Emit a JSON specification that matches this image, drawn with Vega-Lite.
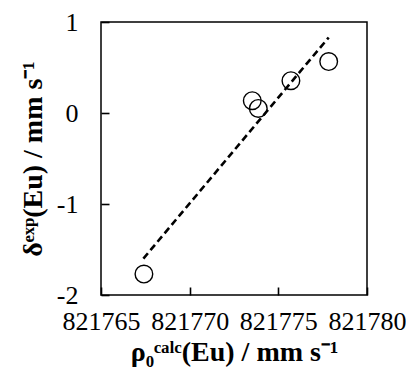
{
  "$schema": "https://vega.github.io/schema/vega-lite/v6.json",
  "width": 266,
  "height": 273,
  "autosize": {"type": "none"},
  "padding": {"left": 101, "top": 22, "right": 39, "bottom": 77},
  "background": "white",
  "config": {
    "view": {"stroke": "black", "strokeWidth": 1.5},
    "axis": {
      "grid": false,
      "domain": false,
      "offset": -8,
      "ticks": true,
      "tickColor": "black",
      "tickWidth": 1.6,
      "tickSize": 8,
      "labelFont": "Liberation Serif",
      "labelFontSize": 26,
      "labelColor": "black",
      "labelOverlap": false,
      "labelFlush": false,
      "titleFont": "Liberation Serif",
      "titleFontWeight": "bold",
      "titleFontSize": 28,
      "titleColor": "black"
    }
  },
  "datasets": {
    "points": [
      {"rho": 821767.42, "delta": -1.77},
      {"rho": 821773.53, "delta": 0.135},
      {"rho": 821773.87, "delta": 0.05},
      {"rho": 821775.71, "delta": 0.355},
      {"rho": 821777.84, "delta": 0.565}
    ],
    "fit": [
      {"rho": 821767.39, "delta": -1.6},
      {"rho": 821777.84, "delta": 0.83}
    ]
  },
  "layer": [
    {
      "data": {"name": "fit"},
      "mark": {"type": "line", "color": "black", "strokeWidth": 2.6, "strokeDash": [7, 4]},
      "encoding": {
        "x": {"field": "rho", "type": "quantitative"},
        "y": {"field": "delta", "type": "quantitative"}
      }
    },
    {
      "data": {"name": "points"},
      "mark": {"type": "point", "shape": "circle", "filled": false, "stroke": "black", "strokeWidth": 1.4, "size": 310, "opacity": 1},
      "encoding": {
        "x": {
          "field": "rho",
          "type": "quantitative",
          "scale": {"domain": [821765, 821780], "nice": false, "zero": false},
          "axis": {
            "values": [821765, 821770, 821775, 821780],
            "labelExpr": "'' + datum.value",
            "labelPadding": 13,
            "title": "ρ₀ᶜᵃˡᶜ(Eu) / mm s⁻¹",
            "titlePadding": 4
          }
        },
        "y": {
          "field": "delta",
          "type": "quantitative",
          "scale": {"domain": [-2, 1], "nice": false, "zero": false},
          "axis": {
            "values": [-2, -1, 0, 1],
            "labelExpr": "'' + datum.value",
            "labelPadding": 23,
            "title": "δᵉˣᵖ(Eu) / mm s⁻¹",
            "titlePadding": 9
          }
        }
      }
    }
  ]
}
